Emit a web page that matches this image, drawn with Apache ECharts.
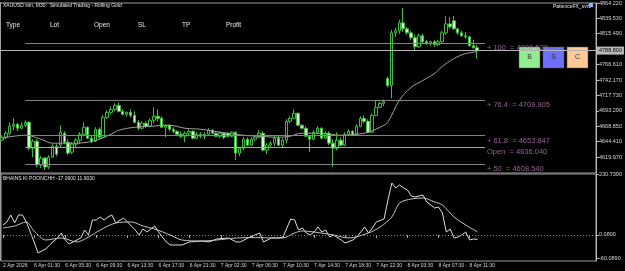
<!DOCTYPE html>
<html>
<head>
<meta charset="utf-8">
<style>
  html, body { margin: 0; padding: 0; background: #000; }
  #chart { width: 625px; height: 271px; }
</style>
<script src="https://cdn.jsdelivr.net/npm/echarts@6/dist/echarts.min.js"></script>
</head>
<body>
<div id="chart"></div>
<script>
// time labels, one every 8 bars (M30)
const timeLabels = ['2 Apr 2026', '6 Apr 01:30', '6 Apr 05:30', '6 Apr 09:30', '6 Apr 13:30', '6 Apr 17:30',
  '6 Apr 21:30', '7 Apr 02:30', '7 Apr 06:30', '7 Apr 10:30', '7 Apr 14:30', '7 Apr 18:30',
  '7 Apr 22:30', '8 Apr 03:30', '8 Apr 07:30', '8 Apr 11:30'];

// XAUUSD M30 candles
const opens = [4646.8, 4651.5, 4657.8, 4668.8, 4672.0, 4665.7, 4670.4, 4675.1, 4634.1, 4645.2,
  4607.4, 4618.4, 4604.2, 4620.0, 4637.3, 4638.9, 4657.8, 4643.6, 4627.8, 4640.5,
  4646.8, 4656.2, 4667.2, 4649.9, 4645.2, 4664.1, 4651.5, 4683.0, 4690.9, 4695.6,
  4701.9, 4692.5, 4687.7, 4690.9, 4686.2, 4675.1, 4665.7, 4673.6, 4668.8, 4678.3,
  4684.6, 4681.4, 4667.2, 4670.4, 4664.1, 4660.9, 4656.2, 4653.1, 4657.8, 4660.9,
  4649.9, 4656.2, 4653.1, 4656.2, 4662.5, 4657.8, 4653.1, 4657.8, 4657.8, 4653.1,
  4659.4, 4626.3, 4634.1, 4648.3, 4638.9, 4648.3, 4651.5, 4657.8, 4631.0, 4638.9,
  4642.0, 4649.9, 4638.9, 4646.8, 4676.7, 4681.4, 4689.3, 4670.4, 4665.7, 4653.1,
  4648.3, 4659.4, 4665.7, 4649.9, 4657.8, 4642.0, 4634.1, 4646.8, 4638.9, 4656.2,
  4660.9, 4656.2, 4668.8, 4681.4, 4676.7, 4659.4, 4686.2, 4698.8, 4705.1, 4744.5,
  4733.4, 4816.9, 4820.1, 4832.7, 4823.3, 4816.9, 4809.1, 4794.9, 4812.2, 4802.8,
  4799.6, 4802.8, 4798.0, 4802.8, 4816.9, 4831.1, 4835.9, 4823.3, 4816.9, 4812.2,
  4810.6, 4796.5, 4793.3];
const closes = [4651.5, 4657.8, 4668.8, 4672.0, 4665.7, 4670.4, 4675.1, 4634.1, 4645.2, 4607.4,
  4618.4, 4604.2, 4620.0, 4637.3, 4624.7, 4659.4, 4643.6, 4626.3, 4640.5, 4646.8,
  4656.2, 4667.2, 4649.9, 4645.2, 4664.1, 4651.5, 4683.0, 4690.9, 4695.6, 4701.9,
  4692.5, 4687.7, 4690.9, 4686.2, 4675.1, 4665.7, 4673.6, 4668.8, 4678.3, 4684.6,
  4681.4, 4667.2, 4670.4, 4664.1, 4660.9, 4656.2, 4653.1, 4657.8, 4660.9, 4649.9,
  4656.2, 4653.1, 4656.2, 4662.5, 4657.8, 4653.1, 4657.8, 4651.5, 4653.1, 4659.4,
  4626.3, 4634.1, 4648.3, 4638.9, 4648.3, 4651.5, 4657.8, 4631.0, 4638.9, 4642.0,
  4649.9, 4638.9, 4646.8, 4676.7, 4681.4, 4689.3, 4670.4, 4665.7, 4653.1, 4648.3,
  4659.4, 4665.7, 4649.9, 4657.8, 4642.0, 4634.1, 4646.8, 4638.9, 4656.2, 4660.9,
  4656.2, 4668.8, 4681.4, 4676.7, 4659.4, 4686.2, 4698.8, 4705.1, 4708.2, 4733.4,
  4816.9, 4820.1, 4832.7, 4823.3, 4816.9, 4809.1, 4794.9, 4812.2, 4802.8, 4799.6,
  4802.8, 4798.0, 4802.8, 4816.9, 4831.1, 4826.4, 4823.3, 4816.9, 4812.2, 4810.6,
  4796.5, 4793.3, 4788.8];
const lows = [4645.2, 4648.3, 4654.6, 4662.5, 4660.9, 4664.1, 4667.2, 4631.0, 4620.0, 4604.2,
  4602.6, 4599.5, 4601.1, 4618.4, 4621.5, 4635.7, 4640.5, 4623.1, 4624.7, 4635.7,
  4640.5, 4653.1, 4648.3, 4642.0, 4643.6, 4648.3, 4649.9, 4679.9, 4687.7, 4692.5,
  4690.9, 4686.2, 4684.6, 4683.0, 4673.6, 4662.5, 4664.1, 4665.7, 4667.2, 4673.6,
  4676.7, 4665.7, 4651.5, 4660.9, 4657.8, 4653.1, 4649.9, 4643.6, 4653.1, 4648.3,
  4648.3, 4649.9, 4648.3, 4654.6, 4656.2, 4651.5, 4649.9, 4648.3, 4651.5, 4651.5,
  4615.2, 4621.5, 4631.0, 4637.3, 4637.3, 4645.2, 4649.9, 4629.4, 4624.7, 4635.7,
  4637.3, 4637.3, 4634.1, 4642.0, 4673.6, 4679.9, 4668.8, 4664.1, 4651.5, 4627.8,
  4646.8, 4656.2, 4648.3, 4648.3, 4638.9, 4604.2, 4631.0, 4637.3, 4637.3, 4653.1,
  4653.1, 4654.6, 4667.2, 4673.6, 4657.8, 4657.8, 4684.6, 4697.2, 4700.3, 4730.3,
  4712.9, 4810.6, 4815.4, 4818.5, 4813.8, 4805.9, 4788.6, 4793.3, 4799.6, 4798.0,
  4796.5, 4794.9, 4796.5, 4799.6, 4813.8, 4823.3, 4821.7, 4813.8, 4810.6, 4807.5,
  4794.9, 4791.7, 4776.0];
const highs = [4654.6, 4660.9, 4675.1, 4681.4, 4673.6, 4675.1, 4678.3, 4676.7, 4648.3, 4648.3,
  4621.5, 4620.0, 4623.1, 4640.5, 4640.5, 4670.4, 4660.9, 4648.3, 4643.6, 4649.9,
  4659.4, 4675.1, 4668.8, 4654.6, 4667.2, 4667.2, 4686.2, 4694.0, 4700.3, 4705.1,
  4706.6, 4695.6, 4692.5, 4695.6, 4692.5, 4678.3, 4676.7, 4676.7, 4681.4, 4698.8,
  4695.6, 4684.6, 4672.0, 4672.0, 4667.2, 4662.5, 4660.9, 4660.9, 4664.1, 4662.5,
  4659.4, 4659.4, 4659.4, 4665.7, 4664.1, 4659.4, 4660.9, 4659.4, 4659.4, 4660.9,
  4660.9, 4635.7, 4651.5, 4651.5, 4651.5, 4654.6, 4662.5, 4660.9, 4642.0, 4645.2,
  4653.1, 4654.6, 4649.9, 4679.9, 4684.6, 4695.6, 4690.9, 4672.0, 4668.8, 4654.6,
  4662.5, 4668.8, 4667.2, 4660.9, 4660.9, 4648.3, 4659.4, 4651.5, 4659.4, 4664.1,
  4662.5, 4672.0, 4684.6, 4686.2, 4679.9, 4689.3, 4709.8, 4708.2, 4711.4, 4747.6,
  4821.7, 4824.8, 4837.4, 4856.3, 4826.4, 4820.1, 4813.8, 4815.4, 4815.4, 4805.9,
  4804.3, 4805.9, 4805.9, 4820.1, 4843.7, 4842.2, 4843.7, 4824.8, 4820.1, 4818.5,
  4812.2, 4805.9, 4798.0];

// moving average: [bar, price]
const maPoints = [[0, 4649.9], [6, 4654.6], [10, 4648.3], [13, 4642.0], [18, 4642.0], [22, 4643.6],
  [25, 4648.3], [28, 4656.2], [30, 4662.5], [34, 4667.2], [38, 4668.8], [43, 4670.4],
  [47, 4665.7], [51, 4664.1], [56, 4659.4], [62, 4654.6], [66, 4653.1], [71, 4651.5],
  [74, 4653.1], [77, 4657.8], [82, 4657.8], [87, 4654.6], [91, 4656.2], [94, 4659.4],
  [97, 4667.2], [99, 4675.1], [102, 4709.8], [105, 4730.3], [108, 4741.3], [111, 4752.3],
  [113, 4763.4], [116, 4776.0], [119, 4783.9], [122, 4787.0]];

// indicator sub window: [bar, value]
const fastPoints = [[0, 37.8], [1, 49.2], [2, 75.7], [3, 45.4], [4, 75.7], [5, 75.7], [6, 49.2],
  [7, 11.3], [8, -26.5], [9, -68.1], [11, -53.0], [12, -37.8], [14, -11.3], [15, 7.6],
  [16, -18.9], [17, -34.0], [18, -26.5], [20, -11.3], [21, 18.9], [22, 0], [23, 56.7],
  [24, 56.7], [25, 68.1], [26, 56.7], [27, 68.1], [28, 75.7], [29, 45.4], [31, 64.3],
  [32, 49.2], [34, 18.9], [35, 0], [36, 22.7], [37, 11.3], [39, 34.0], [40, 11.3],
  [42, -26.5], [43, -37.8], [46, -37.8], [48, -26.5], [51, -22.7], [53, -26.5], [55, -15.1],
  [58, -11.3], [60, -26.5], [61, -26.5], [63, -11.3], [66, 7.6], [67, -26.5], [69, -11.3],
  [71, -11.3], [72, -7.6], [74, 60.5], [75, 56.7], [76, 18.9], [77, 26.5], [78, 7.6],
  [79, 0], [80, 11.3], [81, 30.3], [82, 11.3], [83, 18.9], [84, -7.6], [85, 0], [87, -18.9],
  [88, -30.3], [90, -18.9], [91, -7.6], [93, 30.3], [94, 7.6], [95, 26.5], [96, 49.2],
  [98, 60.5], [99, 132.4], [100, 196.7], [101, 177.8], [102, 189.2], [103, 177.8],
  [104, 170.2], [105, 147.5], [106, 143.8], [108, 151.3], [109, 124.8], [111, 102.1],
  [112, 105.9], [113, 83.2], [114, 11.3], [115, 22.7], [116, -11.3], [117, -7.6], [118, 0],
  [119, 11.3], [120, -18.9], [121, -15.1], [122, -17.06]];
const slowPoints = [[0, 26.5], [3, 34.0], [6, 49.2], [8, 15.0], [11, -18.9], [15, -11.3],
  [19, -26.5], [22, -7.6], [25, 18.9], [29, 45.4], [33, 49.2], [36, 34.0], [39, 22.7],
  [43, 0], [46, -18.9], [51, -22.7], [55, -18.9], [60, -11.3], [65, -10.0], [70, -11.3],
  [72, -11.3], [75, 7.6], [77, 15.1], [80, 11.3], [85, 0], [89, -11.3], [94, 7.6],
  [97, 30.3], [100, 68.1], [102, 121.1], [105, 136.2], [108, 140.0], [111, 124.8],
  [113, 113.5], [116, 68.1], [119, 37.8], [122, 11.9]];

// axis ticks
const priceTicks = [4864.22, 4839.53, 4815.49, 4766.61, 4742.17, 4717.73, 4693.29, 4668.85, 4644.41, 4619.97];
const indTicks = [230.739, 0.08, -87];
const indTickText = ['230.7390', '0.0800', '-60.0890'];

// fibonacci levels
const fibNames = ['+ 100', '+ 76.4', '+ 61.8', 'Open', '+ 50'];
const fibValues = [4800.520, 4709.905, 4653.847, 4636.040, 4608.540];

const nSlots = 153;
const cats = [];
for (let i = 0; i < nSlots; i++) cats.push('b' + i);
const isLabelSlot = (i) => i % 8 === 0 && i / 8 < timeLabels.length;

const bid = closes[closes.length - 1];
const candles = opens.map((o, i) => [o, closes[i], lows[i], highs[i]]);

const fibLines = fibValues.map((v, k) => [
  { coord: [6, v], lineStyle: { color: fibNames[k] === 'Open' ? '#a6a6a6' : '#858585', width: 1, type: 'solid' } },
  { coord: [124, v] }
]);

const txt = '#d6d6d6';
const font = 'Liberation Sans, Arial, sans-serif';

const chart = echarts.init(document.getElementById('chart'));
chart.setOption({
  animation: false,
  backgroundColor: '#000',
  textStyle: { fontFamily: font },
  grid: [
    { left: -1.5, width: 597.5, top: 2, height: 171, show: true, borderColor: '#9c9c9c', borderWidth: 1 },
    { left: -1.5, width: 597.5, top: 174, height: 87, show: true, borderColor: '#9c9c9c', borderWidth: 1 }
  ],
  xAxis: [
    { type: 'category', gridIndex: 0, data: cats, boundaryGap: true, show: false },
    {
      type: 'category', gridIndex: 1, data: cats, boundaryGap: true,
      axisLine: { show: false },
      axisTick: { show: true, alignWithLabel: true, length: 3, interval: (i) => isLabelSlot(i), lineStyle: { color: '#b0b0b0' } },
      axisLabel: {
        interval: (i) => isLabelSlot(i),
        formatter: (v, i) => (isLabelSlot(i) ? timeLabels[i / 8] : ''),
        color: txt, fontSize: 5, align: 'left', margin: 2
      },
      splitLine: { show: false }
    }
  ],
  yAxis: [
    {
      type: 'value', gridIndex: 0, position: 'right', min: 4594.76, max: 4864.22,
      splitLine: { show: false },
      axisLine: { show: true, lineStyle: { color: '#bdbdbd' } },
      axisTick: { show: true, inside: false, length: 3, customValues: priceTicks, lineStyle: { color: '#bdbdbd' } },
      axisLabel: { customValues: priceTicks, formatter: (v) => v.toFixed(3), color: txt, fontSize: 5.5, margin: 3 }
    },
    {
      type: 'value', gridIndex: 1, position: 'right', min: -98.4, max: 230.739,
      splitLine: { show: false },
      axisLine: { show: true, lineStyle: { color: '#bdbdbd' } },
      axisTick: { show: true, inside: false, length: 3, customValues: indTicks, lineStyle: { color: '#bdbdbd' } },
      axisLabel: {
        customValues: indTicks,
        formatter: (v) => indTickText[indTicks.indexOf(v)] || '',
        color: txt, fontSize: 5.5, margin: 3
      }
    }
  ],
  series: [
    {
      type: 'candlestick', xAxisIndex: 0, yAxisIndex: 0, data: candles, barWidth: 3,
      itemStyle: { color: '#000', color0: '#dff5d8', borderColor: '#34c334', borderColor0: '#34c334', borderWidth: 1 },
      markLine: {
        silent: true, symbol: 'none', animation: false,
        label: { show: false },
        data: fibLines.concat([{
          yAxis: bid,
          lineStyle: { color: '#b4b4b4', width: 1, type: 'solid' },
          label: {
            show: true, position: 'end', distance: 1, formatter: bid.toFixed(3),
            backgroundColor: '#b9b9b9', color: '#000', fontSize: 5.5, padding: [1, 2]
          }
        }])
      }
    },
    {
      type: 'line', xAxisIndex: 0, yAxisIndex: 0, data: maPoints, smooth: 0.4, symbol: 'none',
      lineStyle: { color: '#a2a2a2', width: 1 }
    },
    {
      type: 'scatter', xAxisIndex: 0, yAxisIndex: 0, symbolSize: 0, silent: true,
      data: fibValues.map((v, k) => ({ value: [124, v], name: fibNames[k] + '  = ' + v.toFixed(3) })),
      label: { show: true, position: 'right', distance: 2, offset: [0, 5], formatter: (p) => p.name, color: '#b67ab6', fontSize: 7.5 }
    },
    {
      type: 'line', xAxisIndex: 1, yAxisIndex: 1, data: fastPoints, symbol: 'none',
      lineStyle: { color: '#dedede', width: 1 },
      markLine: {
        silent: true, symbol: 'none', label: { show: false },
        data: [{ yAxis: 0.08 }],
        lineStyle: { color: '#8c8c8c', type: [1, 2], width: 1 }
      }
    },
    {
      type: 'line', xAxisIndex: 1, yAxisIndex: 1, data: slowPoints, smooth: 0.3, symbol: 'none',
      lineStyle: { color: '#c4c4c4', width: 1 }
    }
  ],
  graphic: [
    { type: 'line', shape: { x1: 0.5, y1: 2, x2: 0.5, y2: 261 }, style: { stroke: '#9c9c9c', lineWidth: 1 } },
    { type: 'text', left: 3, top: 3, style: { text: 'XAUUSD sim, M30:  Simulated Trading - Rolling Gold', fill: '#e4e4e4', font: '5px ' + font } },
    { type: 'text', left: 6, top: 22, style: { text: 'Type', fill: '#e8e8e8', font: '6.5px ' + font } },
    { type: 'text', left: 50, top: 22, style: { text: 'Lot', fill: '#e8e8e8', font: '6.5px ' + font } },
    { type: 'text', left: 94, top: 22, style: { text: 'Open', fill: '#e8e8e8', font: '6.5px ' + font } },
    { type: 'text', left: 138, top: 22, style: { text: 'SL', fill: '#e8e8e8', font: '6.5px ' + font } },
    { type: 'text', left: 182, top: 22, style: { text: 'TP', fill: '#e8e8e8', font: '6.5px ' + font } },
    { type: 'text', left: 226, top: 22, style: { text: 'Profit', fill: '#e8e8e8', font: '6.5px ' + font } },
    { type: 'text', left: 553, top: 4, style: { text: 'PatienceFX_svr5', fill: '#e8e8e8', font: '5px ' + font } },
    { type: 'rect', shape: { x: 589, y: 3, width: 4, height: 4 }, style: { fill: '#7fb8ff' } },
    { type: 'text', left: 3, top: 176, style: { text: 'BHAINS KI POONCHH -17.0600 11.9030', fill: '#e4e4e4', font: '5px ' + font } },
    {
      type: 'group', z: 100, children: [
        { type: 'rect', shape: { x: 519, y: 47, width: 21, height: 21 }, style: { fill: '#90ee90', stroke: '#555', lineWidth: 0.5 } },
        { type: 'text', x: 529.5, y: 57.5, style: { text: 'B', fill: '#333', font: '7px ' + font, align: 'center', verticalAlign: 'middle' } },
        { type: 'rect', shape: { x: 543, y: 47, width: 21, height: 21 }, style: { fill: '#6e6eff', stroke: '#555', lineWidth: 0.5 } },
        { type: 'text', x: 553.5, y: 57.5, style: { text: 'S', fill: '#333', font: '7px ' + font, align: 'center', verticalAlign: 'middle' } },
        { type: 'rect', shape: { x: 567, y: 47, width: 21, height: 21 }, style: { fill: '#ffc896', stroke: '#555', lineWidth: 0.5 } },
        { type: 'text', x: 577.5, y: 57.5, style: { text: 'C', fill: '#333', font: '7px ' + font, align: 'center', verticalAlign: 'middle' } }
      ]
    }
  ]
});
</script>
</body>
</html>
